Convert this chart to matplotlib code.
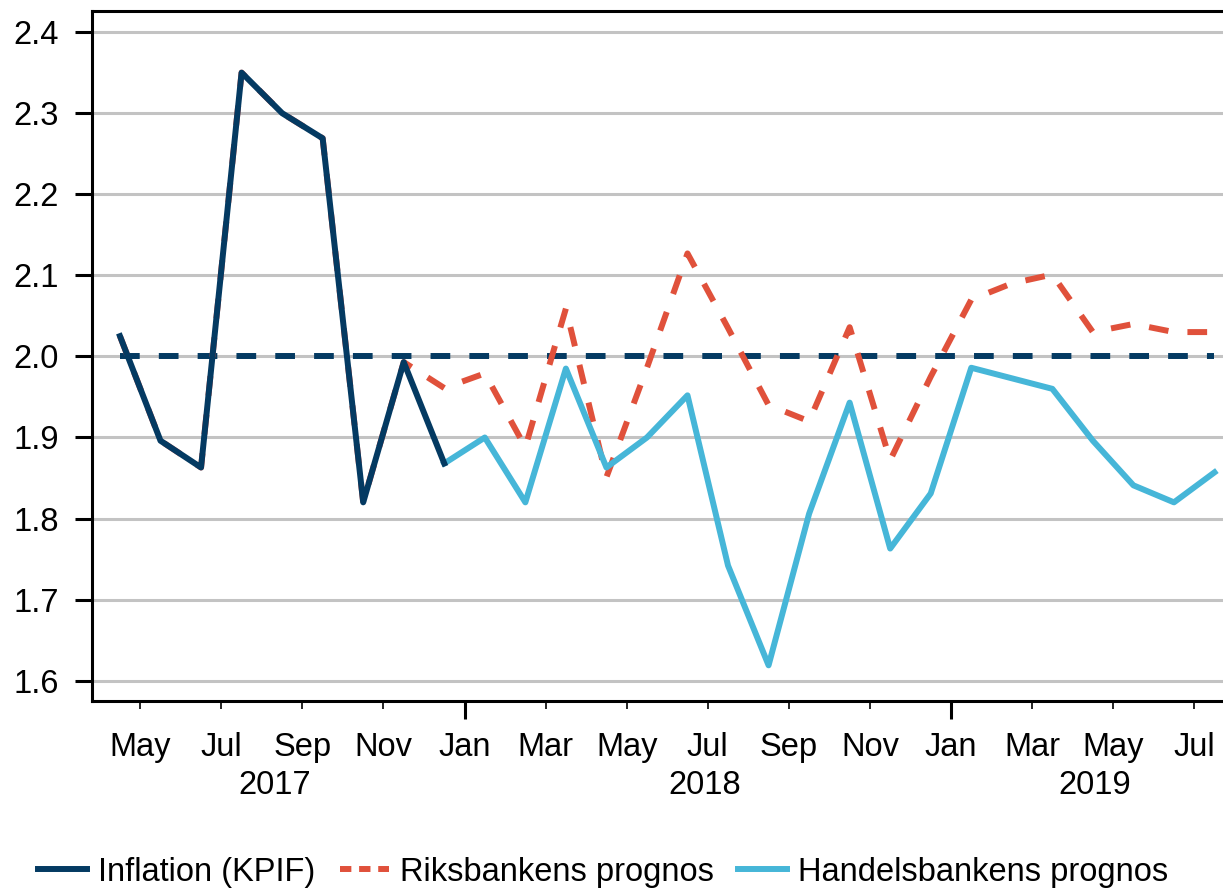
import numpy as np
import matplotlib
matplotlib.use("Agg")
import matplotlib.pyplot as plt
import matplotlib.transforms as mtransforms
from matplotlib.lines import Line2D

plt.rcParams['font.family'] = ['Liberation Sans', 'DejaVu Sans']

# ---- data (monthly, Apr 2017 .. Jul 2019) ----
months = ["Apr", "May", "Jun", "Jul", "Aug", "Sep", "Oct", "Nov", "Dec",
          "Jan", "Feb", "Mar", "Apr", "May", "Jun", "Jul", "Aug", "Sep", "Oct", "Nov", "Dec",
          "Jan", "Feb", "Mar", "Apr", "May", "Jun", "Jul"]
years = [2017] * 9 + [2018] * 12 + [2019] * 7
nan = np.nan

inflation = [2.025, 1.896, 1.863, 2.35, 2.30, 2.269, 1.82, 1.993, 1.868] + [nan] * 19

riksbank = [2.025, 1.896, 1.863, 2.35, 2.30, 2.269, 1.82, 1.993,
            1.961, 1.979, 1.888, 2.059, 1.851, 1.986, 2.127, 2.035, 1.94, 1.92,
            2.036, 1.872, 1.975, 2.070, 2.09, 2.101, 2.03, 2.04, 2.03, 2.03]

handelsbanken = [nan] * 8 + [1.868,
                 1.90, 1.82, 1.985, 1.863, 1.90, 1.952, 1.742, 1.619, 1.806,
                 1.943, 1.763, 1.831, 1.986, 1.973, 1.96, 1.896, 1.841, 1.82, 1.857]

target = [2.0] * 28

tick_months = ["May", "Jul", "Sep", "Nov", "Jan", "Mar"]
year_labels = ["2017", "2018", "2019"]
yticks = [1.6, 1.7, 1.8, 1.9, 2.0, 2.1, 2.2, 2.3, 2.4]
legend_labels = ["Inflation (KPIF)", "Riksbankens prognos", "Handelsbankens prognos"]

# ---- styling ----
NAVY = "#043a62"
RED = "#e0513b"
BLUE = "#46b6d8"
GRID = "#c3c3c3"
FS = 23.5

W, H = 1223, 890
fig = plt.figure(figsize=(W / 100, H / 100), dpi=100)
ax = fig.add_axes([92 / W, 189 / H, (W - 92) / W, 690 / H])

x = np.arange(len(months))
lw = 4.3
dash = (3.3, 3.2)

ax.plot(x, target, color=NAVY, lw=lw, dashes=dash, dash_capstyle='butt', zorder=3)
ax.plot(x, riksbank, color=RED, lw=lw, dashes=dash, dash_capstyle='butt', zorder=4)
ax.plot(x, handelsbanken, color=BLUE, lw=lw, zorder=5)
ax.plot(x, inflation, color=NAVY, lw=lw, zorder=6)

ax.set_xlim(-0.69, 27.21)
ax.set_ylim(1.575, 2.426)

# y axis
ax.set_yticks(yticks)
ax.set_yticklabels([f"{v:.1f}" for v in yticks])
ax.yaxis.grid(True, color=GRID, lw=2.2, zorder=0)
ax.set_axisbelow(True)
ax.tick_params(axis='y', which='major', length=12, width=2.2, pad=12, labelsize=FS, direction='out')

# x axis: labelled months (odd months) at the start of the month
tpos = [i - 0.5 for i, m in enumerate(months) if m in tick_months]
tlab = [m for m in months if m in tick_months]
ax.set_xticks(tpos)
ax.set_xticklabels(tlab)
jan_pos = [i - 0.5 for i, m in enumerate(months) if m == "Jan"]
ax.set_xticks(jan_pos, minor=True)
ax.xaxis.remove_overlapping_locs = False
ax.tick_params(axis='x', which='major', length=6, width=1.2, pad=16, labelsize=FS, direction='out')
ax.tick_params(axis='x', which='minor', length=13, width=2.2, direction='out')

# year labels
trans = mtransforms.blended_transform_factory(ax.transData, ax.transAxes)
for xp, lab in zip([3.82, 14.43, 24.05], year_labels):
    ax.text(xp, -0.123, lab, transform=trans, ha='center', va='center', fontsize=FS)

for s in ['left', 'top', 'bottom']:
    ax.spines[s].set_linewidth(2.2)
    ax.spines[s].set_color('black')
ax.spines['right'].set_visible(False)

handles = [Line2D([], [], color=NAVY, lw=lw),
           Line2D([], [], color=RED, lw=lw, dashes=(1.9, 1.3), dash_capstyle='butt'),
           Line2D([], [], color=BLUE, lw=lw)]
fig.legend(handles, legend_labels, loc='center left', bbox_to_anchor=(38 / W, 18 / H),
           ncol=3, frameon=False, fontsize=FS, handlelength=1.5, handletextpad=0.34,
           columnspacing=0.75, borderpad=0, borderaxespad=0)

fig.savefig("out.png", dpi=100)
